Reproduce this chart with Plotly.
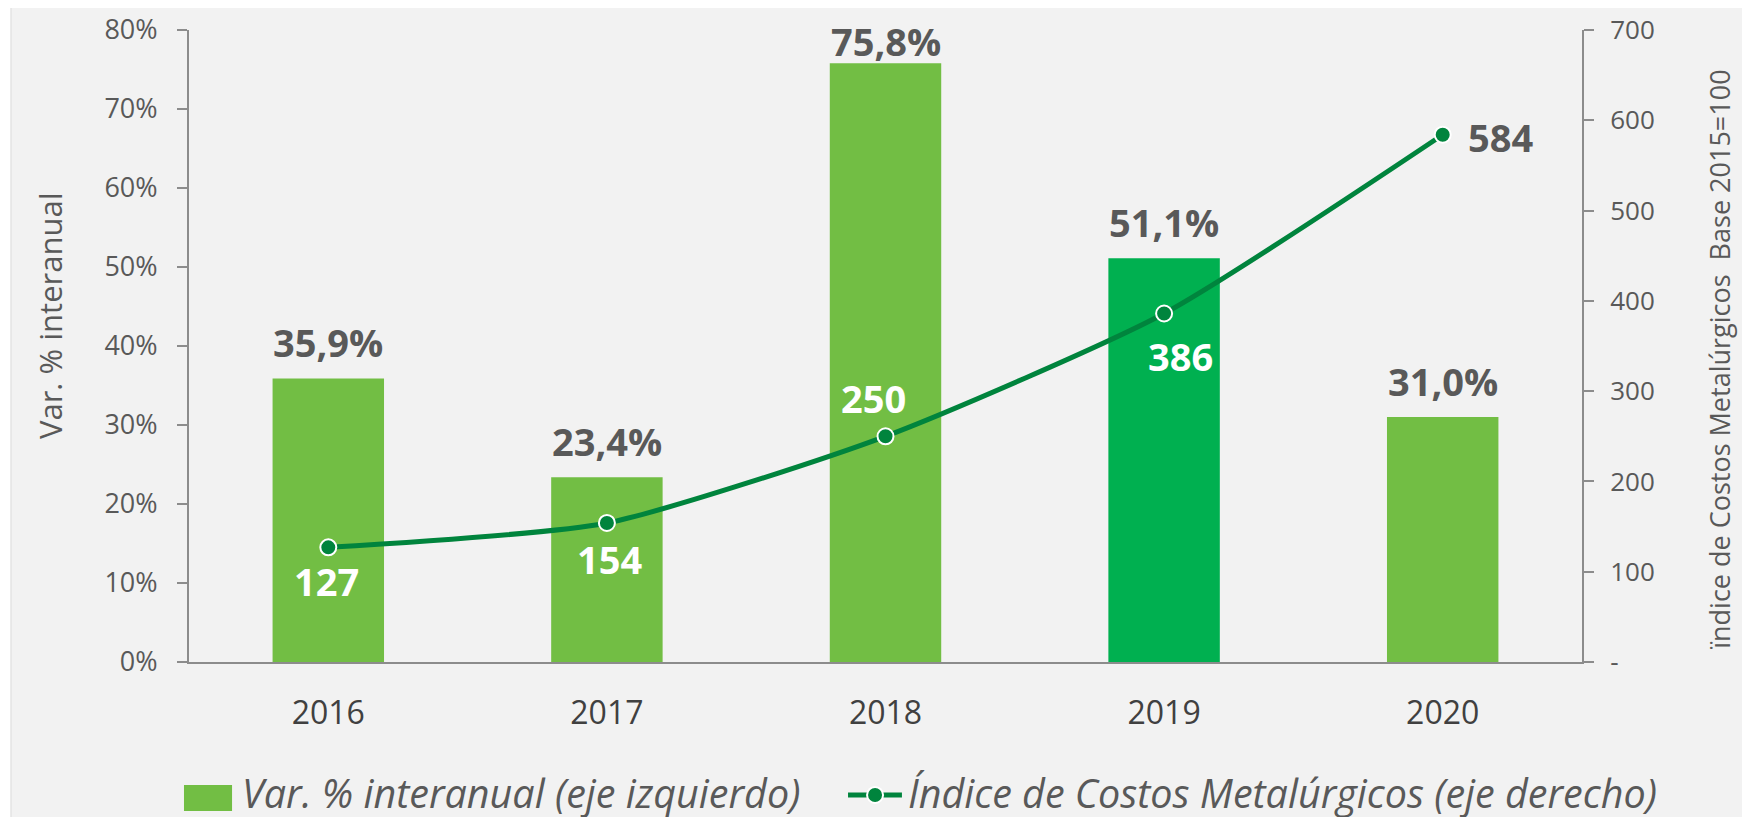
import plotly.graph_objects as go

years = ["2016", "2017", "2018", "2019", "2020"]
var_pct = [0.359, 0.234, 0.758, 0.511, 0.310]
indice = [127, 154, 250, 386, 584]

bar_name = "Var. % interanual (eje izquierdo)"
line_name = "Índice de Costos Metalúrgicos (eje derecho)"
left_title = "Var. % interanual"
right_title = "ïndice de Costos Metalúrgicos  Base 2015=100"

bar_colors = ["#72BE44", "#72BE44", "#72BE44", "#00B050", "#72BE44"]
line_color = "#00843D"
label_gray = "#595959"
axis_gray = "#8C8C8C"
FONT = "Open Sans"

fig = go.Figure()
fig.add_trace(go.Bar(
    x=years, y=var_pct, name=bar_name,
    marker=dict(color=bar_colors, line=dict(width=0)),
    yaxis="y", showlegend=False,
))
fig.add_trace(go.Scatter(
    x=years, y=indice, name=line_name,
    mode="lines+markers", yaxis="y2", showlegend=False,
    line=dict(color=line_color, width=5, shape="spline", smoothing=0.6),
    marker=dict(size=16, color=line_color, line=dict(color="white", width=2)),
))

annotations = []
# category index used for annotation placement on the category axis
bar_label_shift = [8, 8, -6, 8, 8]
for i, (v, ys) in enumerate(zip(var_pct, bar_label_shift)):
    annotations.append(dict(
        x=i, y=v, xref="x", yref="y", text=f"{v*100:.1f}".replace(".", ",") + "%",
        showarrow=False, yanchor="bottom", yshift=ys,
        font=dict(family=FONT, size=38, color=label_gray, weight="bold"),
    ))
line_offsets = [(-2, -34), (3, -36), (-12, 38), (16, -42), (58, -2)]
line_label_colors = ["white", "white", "white", "white", label_gray]
for i, (v, (dx, dy), c) in enumerate(zip(indice, line_offsets, line_label_colors)):
    annotations.append(dict(
        x=i, y=v, xref="x", yref="y2", text=str(v),
        showarrow=False, xshift=dx, yshift=dy,
        font=dict(family=FONT, size=38, color=c, weight="bold"),
    ))

# axis titles (placed as in the reference, slightly off-centre)
annotations.append(dict(x=-0.0998, y=0.549, xref="paper", yref="paper", text=left_title,
                        textangle=-90, showarrow=False, xanchor="center", yanchor="middle",
                        font=dict(family=FONT, size=31, color=label_gray)))
annotations.append(dict(x=1.099, y=0.478, xref="paper", yref="paper", text=right_title,
                        textangle=-90, showarrow=False, xanchor="center", yanchor="middle",
                        font=dict(family=FONT, size=27, color=label_gray)))

# custom legend (large symbols, as in the reference)
LEG_TXT_Y = -0.208
legend_font = dict(family=FONT, size=39.5, color=label_gray, style="italic")
annotations.append(dict(x=0.0366, y=LEG_TXT_Y, xref="paper", yref="paper", text=bar_name,
                        showarrow=False, xanchor="left", yanchor="middle", font=legend_font))
annotations.append(dict(x=0.5147, y=LEG_TXT_Y, xref="paper", yref="paper", text=line_name,
                        showarrow=False, xanchor="left", yanchor="middle", font=legend_font))

LEG_LINE_Y = -0.2104
shapes = [
    dict(type="rect", xref="paper", yref="paper", layer="below",
         x0=-0.1278, x1=1.2, y0=-0.3, y1=1.05,
         fillcolor="#F2F2F2", line=dict(color="#DADADA", width=1)),
    dict(type="rect", xref="paper", yref="paper",
         x0=-0.0036, x1=0.0309, y0=-0.2358, y1=-0.1946,
         fillcolor="#72BE44", line=dict(width=0)),
    dict(type="line", xref="paper", yref="paper",
         x0=0.4731, x1=0.5118, y0=LEG_LINE_Y, y1=LEG_LINE_Y,
         line=dict(color=line_color, width=5)),
    dict(type="circle", xref="paper", yref="paper",
         xsizemode="pixel", ysizemode="pixel", xanchor=0.4925, yanchor=LEG_LINE_Y,
         x0=-8, x1=8, y0=-8, y1=8,
         fillcolor=line_color, line=dict(color="white", width=2)),
]

fig.update_layout(
    width=1750, height=817,
    # page body adds an 8px offset; margins compensate so the plot lands where the reference has it
    margin=dict(l=181, r=176, t=22, b=163, autoexpand=False),
    paper_bgcolor="white",
    plot_bgcolor="rgba(0,0,0,0)",
    font=dict(family=FONT, color=label_gray),
    bargap=0.6,
    showlegend=False,
    xaxis=dict(
        type="category", range=[-0.5, len(years) - 0.5],
        showline=True, linecolor=axis_gray, linewidth=2,
        ticks="", showgrid=False, zeroline=False, automargin=False,
        ticklabelstandoff=22,
        tickfont=dict(size=32, color="#404040"),
    ),
    yaxis=dict(
        range=[0, 0.8], tickvals=[0, 0.1, 0.2, 0.3, 0.4, 0.5, 0.6, 0.7, 0.8],
        tickformat=".0%", showline=True, linecolor=axis_gray, linewidth=2,
        ticks="outside", ticklen=10, tickwidth=2, tickcolor=axis_gray,
        showgrid=False, zeroline=False, automargin=False,
        ticklabelstandoff=14,
        tickfont=dict(size=27, color=label_gray),
    ),
    yaxis2=dict(
        overlaying="y", side="right", range=[0, 700],
        tickvals=[0, 100, 200, 300, 400, 500, 600, 700],
        ticktext=["-", "100", "200", "300", "400", "500", "600", "700"],
        showline=True, linecolor=axis_gray, linewidth=2,
        ticks="outside", ticklen=10, tickwidth=2, tickcolor=axis_gray,
        showgrid=False, zeroline=False, automargin=False,
        ticklabelstandoff=11,
        tickfont=dict(size=26, color=label_gray),
    ),
    annotations=annotations,
    shapes=shapes,
)

fig.write_html("out.html")
